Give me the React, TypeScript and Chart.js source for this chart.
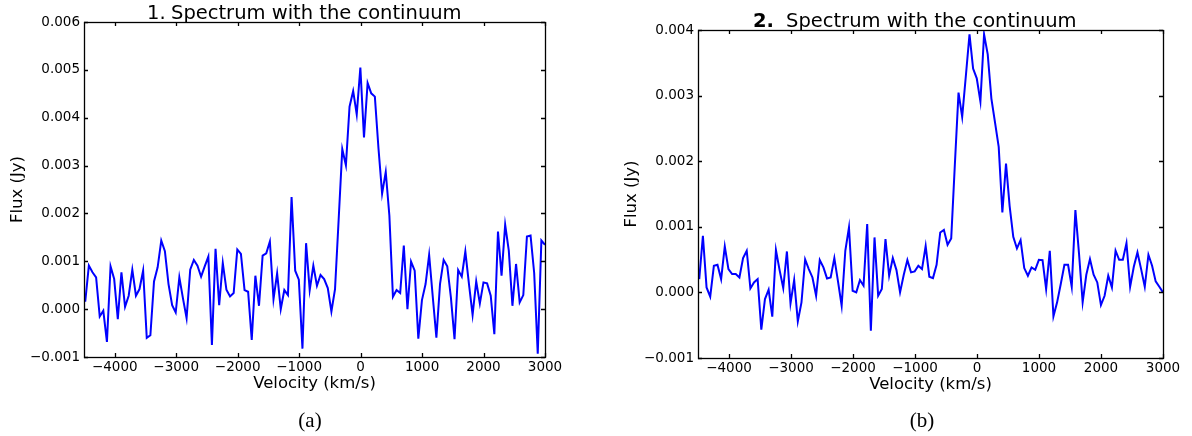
import React, { useEffect, useRef } from "react";
import { Chart, registerables } from "chart.js";

Chart.register(...registerables);

// Velocity channels (km/s), shared by both spectra
const velocity = [
  -4480, -4421, -4362, -4303, -4244, -4186, -4127, -4068, -4009, -3950,
  -3891, -3832, -3773, -3714, -3655, -3597, -3538, -3479, -3420, -3361,
  -3302, -3243, -3184, -3125, -3066, -3008, -2949, -2890, -2831, -2772,
  -2713, -2654, -2595, -2536, -2477, -2419, -2360, -2301, -2242, -2183,
  -2124, -2065, -2006, -1947, -1888, -1830, -1771, -1712, -1653, -1594,
  -1535, -1476, -1417, -1358, -1299, -1241, -1182, -1123, -1064, -1005,
  -946, -887, -828, -769, -710, -652, -593, -534, -475, -416,
  -357, -298, -239, -180, -121, -63, -4, 55, 114, 173,
  232, 291, 350, 409, 468, 526, 585, 644, 703, 762,
  821, 880, 939, 998, 1057, 1115, 1174, 1233, 1292, 1351,
  1410, 1469, 1528, 1587, 1646, 1704, 1763, 1822, 1881, 1940,
  1999, 2058, 2117, 2176, 2235, 2293, 2352, 2411, 2470, 2529,
  2588, 2647, 2706, 2765, 2824, 2882, 2941, 3000,
];

// Panel (a) flux (Jy)
const fluxA = [
  0.000154, 0.000909, 0.000769, 0.000664, -0.000154, -0.000035, -0.000685, 0.000895, 0.000629, -0.00021,
  0.000769, 0.000049, 0.00028, 0.000825, 0.00028, 0.00042, 0.000804, -0.000601, -0.000545, 0.00058,
  0.000874, 0.001434, 0.00121, 0.000524, 0.000084, -0.00007, 0.000664, 0.000224, -0.000189, 0.000825,
  0.001028, 0.000909, 0.000678, 0.000895, 0.001098, -0.000748, 0.001259, 0.000084, 0.000965, 0.000406,
  0.000266, 0.000336, 0.001245, 0.001154, 0.000399, 0.000364, -0.000643, 0.000699, 0.00007, 0.001119,
  0.001168, 0.001413, 0.00021, 0.000748, 0.0, 0.000399, 0.000294, 0.002343, 0.000804, 0.000615,
  -0.000825, 0.001378, 0.000399, 0.000909, 0.00049, 0.000713, 0.000629, 0.000441, -0.000049, 0.00042,
  0.001874, 0.003343, 0.003007, 0.004231, 0.004559, 0.00407, 0.005049, 0.003587, 0.004727, 0.00451,
  0.004441, 0.003357, 0.002413, 0.002867, 0.001958, 0.000259, 0.000399, 0.000336, 0.001329, 0.0,
  0.000993, 0.000804, -0.000615, 0.000189, 0.000524, 0.001133, 0.000259, -0.000594, 0.000524, 0.001028,
  0.000895, 0.000245, -0.000629, 0.000818, 0.000678, 0.001203, 0.000524, -0.000119, 0.00058, 0.000119,
  0.000559, 0.000538, 0.00028, -0.000524, 0.001622, 0.000699, 0.001762, 0.001224, 0.00007, 0.000944,
  0.00014, 0.000294, 0.001517, 0.001538, 0.000755, -0.00093, 0.001434, 0.001343,
];

// Panel (b) flux (Jy)
const fluxB = [
  0.000203, 0.000863, 0.000076, -0.000066, 0.000406, 0.000421, 0.000203, 0.000701, 0.000355, 0.000279,
  0.000279, 0.000228, 0.000523, 0.000635, 0.000061, 0.000152, 0.000203, -0.000569, -0.000102, 0.000041,
  -0.000371, 0.000645, 0.00034, 0.000066, 0.000624, -0.000168, 0.000188, -0.000442, -0.000152, 0.000503,
  0.000355, 0.000228, -0.000051, 0.000492, 0.000381, 0.000213, 0.000228, 0.000523, 0.000168, -0.000203,
  0.000635, 0.00099, 0.000025, 0.0, 0.000188, 0.000102, 0.001041, -0.000584, 0.000838, -0.000051,
  0.000051, 0.000812, 0.000254, 0.000523, 0.00034, 0.0, 0.000264, 0.000492, 0.000305, 0.00032,
  0.000406, 0.000355, 0.000706, 0.000239, 0.000218, 0.000421, 0.000914, 0.000954, 0.000726, 0.000822,
  0.001954, 0.003046, 0.002675, 0.003299, 0.003934, 0.003411, 0.003264, 0.002909, 0.003934, 0.003629,
  0.002954, 0.002589, 0.002218, 0.001218, 0.001964, 0.00132, 0.000848, 0.00067, 0.000797, 0.000371,
  0.000254, 0.000381, 0.000345, 0.000497, 0.000492, 0.000051, 0.000635, -0.000365, -0.000152, 0.000127,
  0.000421, 0.000421, 0.000086, 0.001254, 0.000584, -0.000152, 0.000269, 0.000508, 0.000269, 0.000152,
  -0.000193, -0.000051, 0.000254, 0.000076, 0.000635, 0.000497, 0.000497, 0.000751, 0.000086, 0.000391,
  0.000609, 0.000355, 0.000086, 0.000574, 0.000406, 0.000168, 0.000086, 0.0,
];

const xTickValues = [-4000, -3000, -2000, -1000, 0, 1000, 2000, 3000];
const yTickValuesA = [-0.001, 0, 0.001, 0.002, 0.003, 0.004, 0.005, 0.006];
const yTickValuesB = [-0.001, 0, 0.001, 0.002, 0.003, 0.004];

const FONT = "'DejaVu Sans', sans-serif";
const SERIF = "'Liberation Serif', 'DejaVu Serif', serif";

function fmtNum(v: number, dec: number) {
  const s = Math.abs(v).toFixed(dec);
  return (v < -1e-12 ? "\u2212" : "") + s;
}

const framePlugin = {
  id: "frame",
  afterDraw(chart: any, _args: any, opts: any) {
    const { ctx, chartArea: a, scales } = chart;
    ctx.save();
    ctx.strokeStyle = "#000";
    ctx.lineWidth = 1.3;
    const L = 4;
    ctx.beginPath();
    scales.x.ticks.forEach((t: any) => {
      const px = Math.round(scales.x.getPixelForValue(t.value)) + 0.5;
      ctx.moveTo(px, a.top);
      ctx.lineTo(px, a.top + L);
      ctx.moveTo(px, a.bottom);
      ctx.lineTo(px, a.bottom - L);
    });
    scales.y.ticks.forEach((t: any) => {
      const py = Math.round(scales.y.getPixelForValue(t.value)) + 0.5;
      ctx.moveTo(a.left, py);
      ctx.lineTo(a.left + L, py);
      ctx.moveTo(a.right, py);
      ctx.lineTo(a.right - L, py);
    });
    ctx.stroke();
    ctx.strokeRect(a.left + 0.5, a.top + 0.5, a.right - a.left, a.bottom - a.top);

    // title
    ctx.fillStyle = "#000";
    ctx.textBaseline = "alphabetic";
    ctx.textAlign = "left";
    ctx.font = `${opts.numBold ? "bold " : ""}19.5px ${FONT}`;
    ctx.fillText(opts.num, opts.numX, opts.baseline);
    ctx.font = `19.5px ${FONT}`;
    ctx.fillText("Spectrum with the continuum", opts.textX, opts.baseline);

    // caption
    ctx.font = `21px ${SERIF}`;
    ctx.textAlign = "center";
    ctx.fillText(opts.caption, opts.captionX, 427);
    ctx.restore();
  },
};

function makeConfig(flux: number[], yTicks: number[], yMax: number, padding: any, yTitlePad: number, frame: any) {
  return {
    type: "line" as const,
    data: {
      datasets: [
        {
          data: velocity.map((v, i) => ({ x: v, y: flux[i] })),
          borderColor: "#0000ff",
          borderWidth: 2,
          pointRadius: 0,
          tension: 0,
          fill: false,
        },
      ],
    },
    options: {
      responsive: false,
      animation: false as const,
      devicePixelRatio: 1,
      layout: { padding },
      plugins: {
        legend: { display: false },
        tooltip: { enabled: false },
        frame,
      },
      scales: {
        x: {
          type: "linear" as const,
          min: -4500,
          max: 3000,
          grid: { display: false, drawTicks: false },
          border: { display: false },
          afterBuildTicks: (s: any) => {
            s.ticks = xTickValues.map((v) => ({ value: v }));
          },
          afterFit: (s: any) => {
            s.height = 50;
          },
          ticks: {
            padding: 2,
            color: "#000",
            autoSkip: false,
            maxRotation: 0,
            font: { family: FONT, size: 13.5 },
            callback: (v: any) => fmtNum(Number(v), 0),
          },
          title: {
            display: true,
            text: "Velocity (km/s)",
            color: "#000",
            font: { family: FONT, size: 16.5 },
            padding: { top: 0, bottom: 13 },
          },
        },
        y: {
          type: "linear" as const,
          min: -0.001,
          max: yMax,
          grid: { display: false, drawTicks: false },
          border: { display: false },
          afterBuildTicks: (s: any) => {
            s.ticks = yTicks.map((v) => ({ value: v }));
          },
          afterFit: (s: any) => {
            s.width = 84;
          },
          ticks: {
            padding: 4,
            color: "#000",
            autoSkip: false,
            font: { family: FONT, size: 13.5 },
            callback: (v: any) => fmtNum(Number(v), 3),
          },
          title: {
            display: true,
            text: "Flux (Jy)",
            color: "#000",
            font: { family: FONT, size: 16.5 },
            padding: { top: yTitlePad, bottom: 0 },
          },
        },
      },
    },
    plugins: [framePlugin],
  };
}

export default function App() {
  const refA = useRef<HTMLCanvasElement>(null);
  const refB = useRef<HTMLCanvasElement>(null);

  useEffect(() => {
    const a = new Chart(
      refA.current as HTMLCanvasElement,
      makeConfig(
        fluxA,
        yTickValuesA,
        0.006,
        { left: 0, right: 51, top: 22, bottom: 29 },
        8,
        { num: "1.", numBold: false, numX: 147, textX: 171, baseline: 19, caption: "(a)", captionX: 310 }
      ) as any
    );
    const b = new Chart(
      refB.current as HTMLCanvasElement,
      makeConfig(
        fluxB,
        yTickValuesB,
        0.004,
        { left: 18, right: 29, top: 30, bottom: 28 },
        8,
        { num: "2.", numBold: true, numX: 157, textX: 190, baseline: 27, caption: "(b)", captionX: 326 }
      ) as any
    );
    return () => {
      a.destroy();
      b.destroy();
    };
  }, []);

  return (
    <div style={{ position: "absolute", left: 0, top: 0, width: 1192, height: 436, background: "#fff" }}>
      <canvas ref={refA} width={596} height={436} style={{ position: "absolute", left: 0, top: 0, width: 596, height: 436 }} />
      <canvas ref={refB} width={596} height={436} style={{ position: "absolute", left: 596, top: 0, width: 596, height: 436 }} />
    </div>
  );
}
